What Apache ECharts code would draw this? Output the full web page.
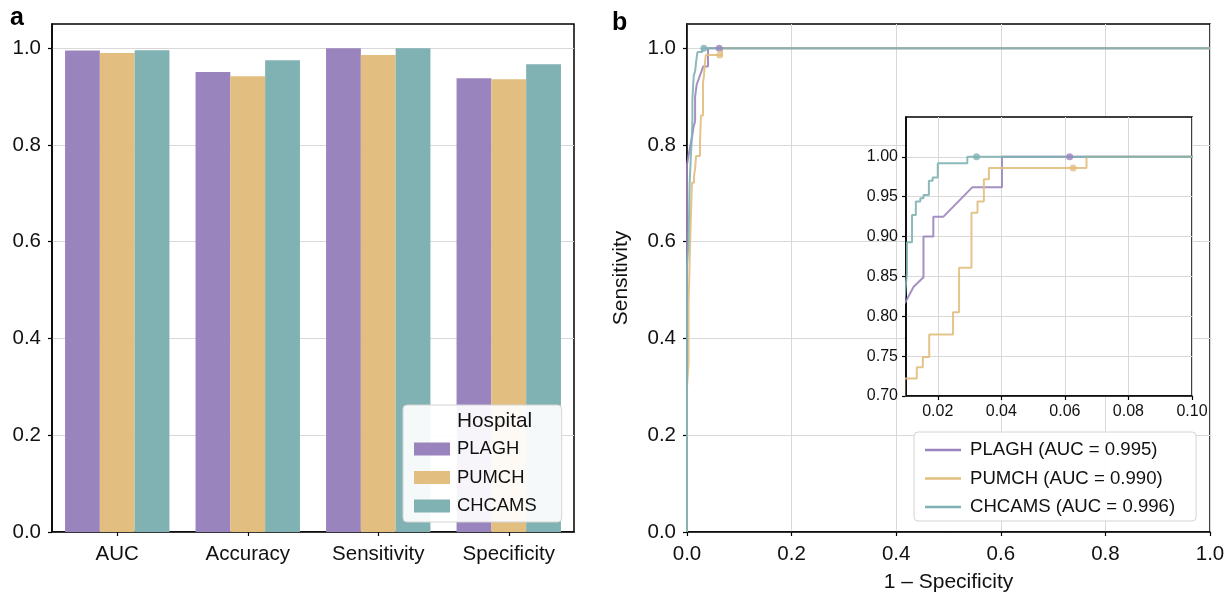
<!DOCTYPE html>
<html>
<head>
<meta charset="utf-8">
<script src="https://cdn.jsdelivr.net/npm/echarts@6/dist/echarts.min.js"></script>
<style>
html,body{margin:0;padding:0;background:#fff;}
#chart{width:1226px;height:593px;}
</style>
</head>
<body>
<div id="chart"></div>
<script>
// ---------- data ----------
const categories = ['AUC', 'Accuracy', 'Sensitivity', 'Specificity'];
const hospitals = ['PLAGH', 'PUMCH', 'CHCAMS'];
const plaghScores = [0.995, 0.951, 1.000, 0.938];
const pumchScores = [0.990, 0.942, 0.986, 0.936];
const chcamsScores = [0.996, 0.975, 1.000, 0.967];

const rocNames = ['PLAGH (AUC = 0.995)', 'PUMCH (AUC = 0.990)', 'CHCAMS (AUC = 0.996)'];

const plaghFpr = [0, 0, 0.005, 0.010, 0.0124, 0.0155, 0.0155, 0.0186, 0.0186, 0.0218, 0.0309, 0.0402, 0.0402, 1];
const plaghTpr = [0, 0.76, 0.79, 0.819, 0.837, 0.849, 0.900, 0.900, 0.925, 0.925, 0.962, 0.962, 1.0, 1.0];

const pumchFpr = [0, 0, 0.003, 0.003, 0.006, 0.006, 0.0085, 0.0085, 0.0095, 0.0095, 0.0134, 0.0134, 0.0153, 0.0153, 0.0173, 0.0173, 0.0248, 0.0248, 0.0267, 0.0267, 0.0306, 0.0306, 0.0325, 0.0325, 0.0345, 0.0345, 0.0361, 0.0361, 0.0668, 0.0668, 1];
const pumchTpr = [0, 0.30, 0.35, 0.47, 0.47, 0.60, 0.60, 0.69, 0.69, 0.722, 0.722, 0.736, 0.736, 0.749, 0.749, 0.777, 0.777, 0.805, 0.805, 0.861, 0.861, 0.930, 0.930, 0.944, 0.944, 0.972, 0.972, 0.986, 0.986, 1.0, 1.0];

const chcamsFpr = [0, 0, 0.003, 0.005, 0.0075, 0.0095, 0.0103, 0.0103, 0.0119, 0.0119, 0.0131, 0.0131, 0.0145, 0.0145, 0.0155, 0.0155, 0.0172, 0.0172, 0.0184, 0.0184, 0.0200, 0.0200, 0.0293, 0.0293, 1];
const chcamsTpr = [0, 0.55, 0.60, 0.72, 0.78, 0.82, 0.854, 0.893, 0.893, 0.927, 0.927, 0.944, 0.944, 0.948, 0.948, 0.952, 0.952, 0.970, 0.970, 0.974, 0.974, 0.992, 0.992, 1.0, 1.0];

const dotFpr = [0.0615, 0.0626, 0.0322];
const dotTpr = [1.0, 0.986, 1.0];

const barYTicks = [0, 0.2, 0.4, 0.6, 0.8, 1.0];
const rocXTicks = [0, 0.2, 0.4, 0.6, 0.8, 1.0];
const rocYTicks = [0, 0.2, 0.4, 0.6, 0.8, 1.0];
const insetXTicks = [0.02, 0.04, 0.06, 0.08, 0.10];
const insetYTicks = [0.70, 0.75, 0.80, 0.85, 0.90, 0.95, 1.00];

// ---------- styling ----------
const FONT = '"Liberation Sans", Arial, Helvetica, sans-serif';
const COLORS = ['#9A84BD', '#E2BE80', '#80B1B3'];
const GRIDC = '#d9d9d9';
const TXT = '#111';

const scoreSets = [plaghScores, pumchScores, chcamsScores];
const rocSets = [[plaghFpr, plaghTpr], [pumchFpr, pumchTpr], [chcamsFpr, chcamsTpr]];
const zip = (a, b) => a.map((v, i) => [v, b[i]]);

function valueAxis(extra) {
  return Object.assign({
    type: 'value',
    axisLine: { show: true, onZero: false, lineStyle: { color: '#000', width: 1.5 } },
    axisTick: { show: true, length: 4, lineStyle: { color: '#000', width: 1.2 } },
    axisLabel: { fontSize: 20.5, color: TXT, margin: 11, fontFamily: FONT },
    splitLine: { show: true, lineStyle: { color: GRIDC, width: 1 } }
  }, extra);
}

const series = [];
scoreSets.forEach((s, i) => {
  series.push({
    type: 'bar', name: hospitals[i], xAxisIndex: 0, yAxisIndex: 0,
    data: s, itemStyle: { color: COLORS[i] },
    barGap: '0%', barCategoryGap: '20%'
  });
});
rocSets.forEach((r, i) => {
  series.push({
    type: 'line', name: rocNames[i], xAxisIndex: 1, yAxisIndex: 1,
    data: zip(r[0], r[1]), symbol: 'none', z: 3,
    lineStyle: { width: 2, color: COLORS[i], opacity: 0.9 }, itemStyle: { color: COLORS[i] }
  });
});
rocSets.forEach((r, i) => {
  series.push({
    type: 'scatter', name: 'pt' + i, xAxisIndex: 1, yAxisIndex: 1,
    data: [[dotFpr[i], dotTpr[i]]], symbolSize: 7, z: 4,
    itemStyle: { color: COLORS[i] }
  });
});
rocSets.forEach((r, i) => {
  series.push({
    type: 'line', name: rocNames[i], xAxisIndex: 2, yAxisIndex: 2,
    data: zip(r[0], r[1]), symbol: 'none', z: 12, clip: true,
    lineStyle: { width: 2, color: COLORS[i], opacity: 0.9 }, itemStyle: { color: COLORS[i] }
  });
});
rocSets.forEach((r, i) => {
  series.push({
    type: 'scatter', name: 'ipt' + i, xAxisIndex: 2, yAxisIndex: 2,
    data: [[dotFpr[i], dotTpr[i]]], symbolSize: 7, z: 13,
    itemStyle: { color: COLORS[i] }
  });
});

const option = {
  animation: false,
  textStyle: { fontFamily: FONT },
  grid: [
    { left: 52, top: 24, width: 522, height: 508, show: true, borderColor: '#000', borderWidth: 1.5, backgroundColor: '#fff', containLabel: false, outerBoundsMode: 'none' },
    { left: 687, top: 24, width: 523, height: 508, show: true, borderColor: '#000', borderWidth: 1.5, backgroundColor: '#fff', containLabel: false, outerBoundsMode: 'none' },
    { left: 906, top: 117, width: 286, height: 279, show: true, borderColor: '#000', borderWidth: 1.5, backgroundColor: '#fff', z: 10, containLabel: false, outerBoundsMode: 'none' }
  ],
  xAxis: [
    {
      type: 'category', gridIndex: 0, data: categories,
      axisLine: { show: true, lineStyle: { color: '#000', width: 1.5 } },
      axisTick: { show: true, alignWithLabel: true, length: 4, lineStyle: { color: '#000', width: 1.2 } },
      axisLabel: { fontSize: 20.5, color: TXT, margin: 12, fontFamily: FONT },
      splitLine: { show: false }
    },
    valueAxis({
      gridIndex: 1, min: 0, max: 1, interval: 0.2,
      axisTick: { show: true, length: 4, lineStyle: { color: '#000', width: 1.2 }, customValues: rocXTicks },
      axisLabel: { fontSize: 20.5, color: TXT, margin: 12, fontFamily: FONT, customValues: rocXTicks, formatter: v => v.toFixed(1) },
      name: '1 \u2013 Specificity', nameLocation: 'middle', nameGap: 40,
      nameTextStyle: { fontSize: 21, color: TXT, fontFamily: FONT }
    }),
    valueAxis({
      gridIndex: 2, min: 0.01, max: 0.10, interval: 0.01, z: 11,
      axisTick: { show: true, length: 4, lineStyle: { color: '#000', width: 1.2 }, customValues: insetXTicks },
      axisLabel: { fontSize: 16, color: TXT, margin: 8, fontFamily: FONT, customValues: insetXTicks, formatter: v => v.toFixed(2) }
    })
  ],
  yAxis: [
    valueAxis({
      gridIndex: 0, min: 0, max: 1.05, interval: 0.2,
      axisTick: { show: true, length: 4, lineStyle: { color: '#000', width: 1.2 }, customValues: barYTicks },
      axisLabel: { fontSize: 20.5, color: TXT, margin: 11, fontFamily: FONT, customValues: barYTicks, formatter: v => v.toFixed(1) }
    }),
    valueAxis({
      gridIndex: 1, min: 0, max: 1.05, interval: 0.2,
      axisTick: { show: true, length: 4, lineStyle: { color: '#000', width: 1.2 }, customValues: rocYTicks },
      axisLabel: { fontSize: 20.5, color: TXT, margin: 11, fontFamily: FONT, customValues: rocYTicks, formatter: v => v.toFixed(1) },
      name: 'Sensitivity', nameLocation: 'middle', nameGap: 55,
      nameTextStyle: { fontSize: 21, color: TXT, fontFamily: FONT }
    }),
    valueAxis({
      gridIndex: 2, min: 0.70, max: 1.05, interval: 0.05, z: 11,
      axisTick: { show: true, length: 4, lineStyle: { color: '#000', width: 1.2 }, customValues: insetYTicks },
      axisLabel: { fontSize: 16, color: TXT, margin: 8, fontFamily: FONT, customValues: insetYTicks, formatter: v => v.toFixed(2) }
    })
  ],
  legend: [
    {
      data: hospitals.map((h, i) => ({ name: h, itemStyle: { color: COLORS[i] } })),
      orient: 'vertical', left: 403, top: 405, icon: 'rect',
      itemWidth: 36, itemHeight: 13, itemGap: 8.5,
      padding: [34, 25, 6, 11],
      borderColor: '#d4d4d4', borderWidth: 1, borderRadius: 4,
      backgroundColor: 'rgba(255,255,255,0.92)', selectedMode: false, z: 20,
      textStyle: { fontSize: 18.4, color: TXT, lineHeight: 20, fontFamily: FONT, padding: [0, 0, 0, 2] }
    },
    {
      data: rocNames.map((n, i) => ({ name: n, itemStyle: { color: COLORS[i] } })),
      orient: 'vertical', left: 914, top: 432, icon: 'rect',
      itemWidth: 36, itemHeight: 2.5, itemGap: 8.5,
      padding: [8, 21, 4, 11],
      borderColor: '#d4d4d4', borderWidth: 1, borderRadius: 4,
      backgroundColor: 'rgba(255,255,255,0.92)', selectedMode: false, z: 20,
      textStyle: { fontSize: 18.6, color: TXT, lineHeight: 20, fontFamily: FONT, padding: [0, 0, 0, 4] }
    }
  ],
  graphic: [
    { type: 'text', x: 10, y: 18, z: 100, style: { text: 'a', fontSize: 25, fontWeight: 'bold', fontFamily: FONT, fill: '#000', align: 'left', verticalAlign: 'middle' } },
    { type: 'text', x: 612, y: 23, z: 100, style: { text: 'b', fontSize: 25, fontWeight: 'bold', fontFamily: FONT, fill: '#000', align: 'left', verticalAlign: 'middle' } },
    { type: 'text', x: 457, y: 421, z: 100, style: { text: 'Hospital', fontSize: 20.8, fontFamily: FONT, fill: TXT, align: 'left', verticalAlign: 'middle' } }
  ],
  series: series
};

const chart = echarts.init(document.getElementById('chart'), null, { renderer: 'canvas' });
chart.setOption(option);
</script>
</body>
</html>
